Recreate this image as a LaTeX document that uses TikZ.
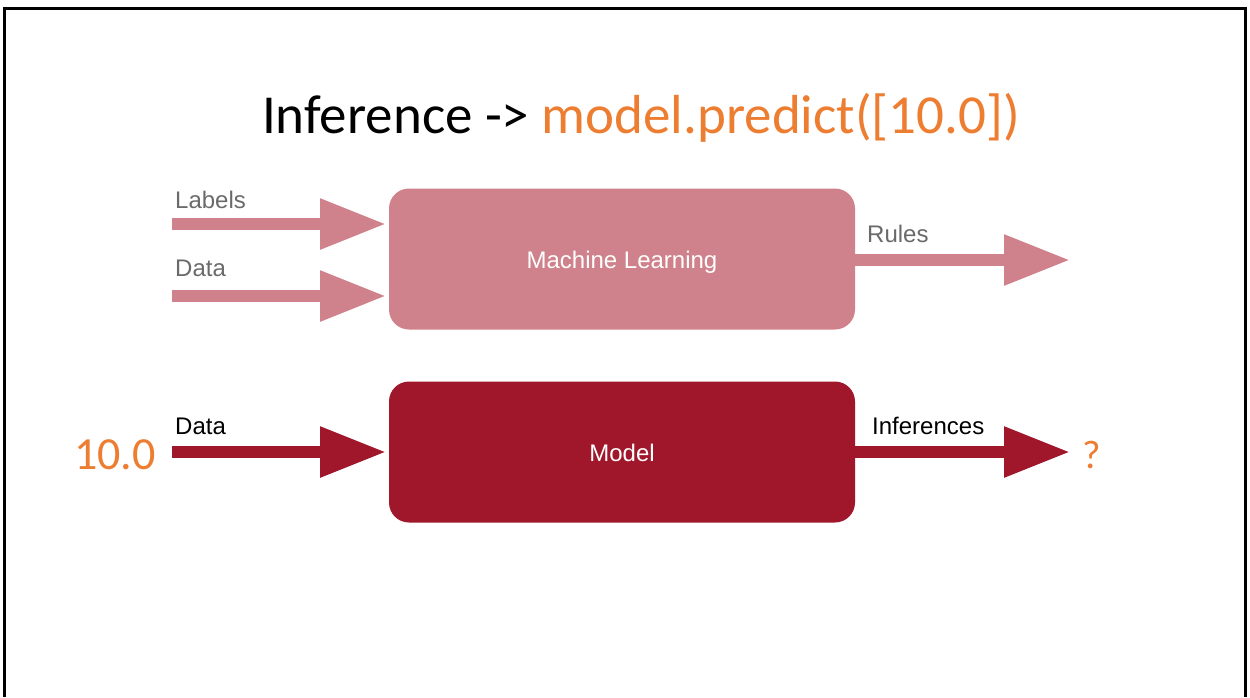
\documentclass[tikz,border=0pt]{standalone}
\usepackage{fontspec}
\setmainfont{Carlito}
\newfontfamily\labelfont{Liberation Sans}
\usetikzlibrary{arrows.meta,calc}
\definecolor{mlpink}{HTML}{CF828B}
\definecolor{modelred}{HTML}{A0172B}
\definecolor{codeorange}{HTML}{ED7D31}
\definecolor{labelgray}{HTML}{6A6A6A}
\tikzset{
  box/.style={rounded corners=20pt, minimum width=466pt, minimum height=141pt,
    inner sep=0pt, text=white, font=\labelfont\fontsize{24}{28}\selectfont},
  fatarrow/.style={line width=12pt, -{Triangle[length=66pt,width=48pt]}},
  tag/.style={anchor=base west, inner sep=0pt, font=\labelfont\fontsize{24}{28}\selectfont},
}
\begin{document}
\begin{tikzpicture}[x=1pt,y=-1pt]
  \useasboundingbox (0,0) rectangle (1250,697);
  % slide frame, open at the bottom
  \draw[line width=3pt] (4.5,697) -- (4.5,8.5) -- (1245.5,8.5) -- (1245.5,697);

  % title
  \node[font=\fontsize{55}{66}\selectfont, inner sep=0pt] (title) at (641,118)
    {Inference -> \textcolor{codeorange}{model.predict([10.0])}};

  % training stage
  \node[box, fill=mlpink] (ml) at (622,259) {};
  \node[anchor=base, inner sep=0pt, text=white, font=\labelfont\fontsize{24}{28}\selectfont] (mltext) at (622,268) {Machine Learning};
  \coordinate (labin) at (172,224);
  \coordinate (datin) at (172,296);
  \coordinate (rulesout) at (1070,260);
  \draw[fatarrow, mlpink] (labin) -- (labin -| 386,0);
  \draw[fatarrow, mlpink] (datin) -- (datin -| 386,0);
  \draw[fatarrow, mlpink] (ml.east |- rulesout) -- (rulesout);
  \node[tag, text=labelgray] (lablabel) at (175,208) {Labels};
  \node[tag, text=labelgray] (datlabel) at (175,276) {Data};
  \node[tag, text=labelgray] (ruleslabel) at (867,242) {Rules};

  % inference stage
  \node[box, fill=modelred] (model) at (622,452) {};
  \node[anchor=base, inner sep=0pt, text=white, font=\labelfont\fontsize{24}{28}\selectfont] (modeltext) at (622,461) {Model};
  \coordinate (valin) at (172,452);
  \coordinate (infout) at (1070,452);
  \draw[fatarrow, modelred] (valin) -- (valin -| 386,0);
  \draw[fatarrow, modelred] (model.east |- infout) -- (infout);
  \node[tag, text=black] (datalabel2) at (175,434) {Data};
  \node[tag, text=black] (inflabel) at (872,434) {Inferences};
  \node[anchor=east, inner sep=0pt, text=codeorange, font=\fontsize{46}{55}\selectfont] (val) at (156,455) {10.0};
  \node[anchor=west, inner sep=0pt, text=codeorange, font=\fontsize{40}{48}\selectfont] (q) at (1082,455) {?};
\end{tikzpicture}
\end{document}
